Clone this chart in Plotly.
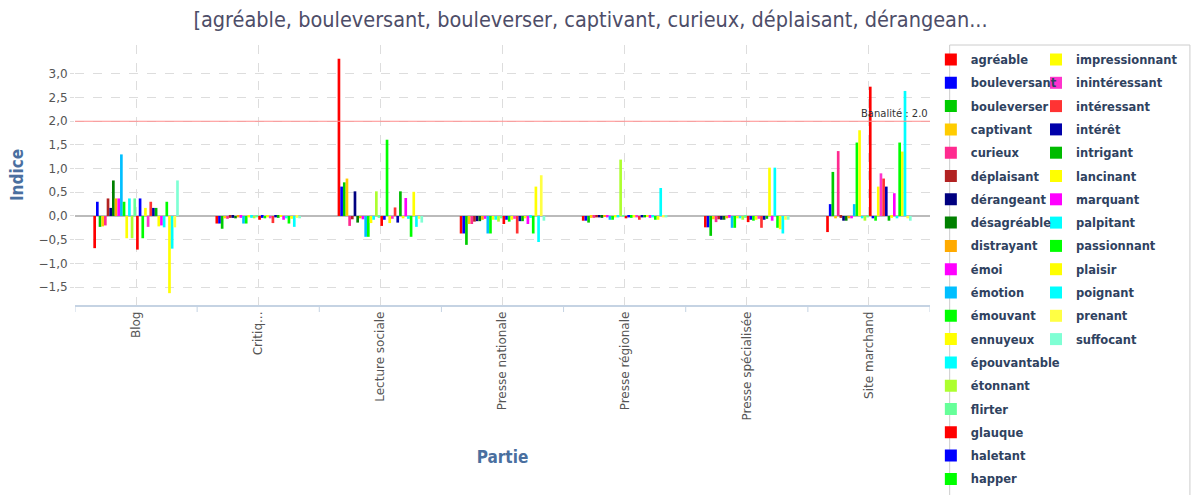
import plotly.graph_objects as go

categories = ["Blog", "Critiq...", "Lecture sociale", "Presse nationale",
              "Presse régionale", "Presse spécialisée", "Site marchand"]

termes = ["agréable", "bouleversant", "bouleverser", "captivant", "curieux",
          "déplaisant", "dérangeant", "désagréable", "distrayant", "émoi",
          "émotion", "émouvant", "ennuyeux", "épouvantable", "étonnant",
          "flirter", "glauque", "haletant", "happer", "impressionnant",
          "inintéressant", "intéressant", "intérêt", "intrigant", "lancinant",
          "marquant", "palpitant", "passionnant", "plaisir", "poignant",
          "prenant", "suffocant"]

# one value per terme, same order as termes
blog = [-0.68, 0.30, -0.23, -0.22, -0.20, 0.37, 0.17, 0.75, 0.37, 0.37,
        1.30, 0.30, -0.47, 0.37, -0.47, 0.37, -0.71, 0.37, -0.47, 0.17,
        -0.23, 0.30, 0.17, 0.17, -0.22, -0.20, -0.24, 0.30, -1.63, -0.69,
        -0.24, 0.75]
critiq = [-0.16, -0.16, -0.27, -0.05, -0.06, -0.04, -0.04, -0.05, -0.03, -0.04,
          -0.16, -0.16, -0.03, -0.04, -0.05, -0.03, -0.08, -0.04, -0.05, -0.03,
          -0.05, -0.15, -0.03, -0.04, -0.02, -0.08, -0.05, -0.16, -0.06, -0.23,
          -0.04, -0.05]
lecture_sociale = [3.32, 0.62, 0.71, 0.79, -0.21, -0.07, 0.52, -0.14, -0.05, -0.07,
                   -0.44, -0.44, -0.15, -0.08, 0.52, -0.04, -0.21, -0.08, 1.61, -0.15,
                   -0.06, 0.18, -0.14, 0.52, -0.05, 0.38, -0.06, -0.44, 0.51, -0.23,
                   -0.06, -0.14]
presse_nationale = [-0.37, -0.37, -0.61, -0.17, -0.17, -0.12, -0.11, -0.11, -0.08, -0.06,
                    -0.37, -0.37, -0.08, -0.08, -0.12, -0.05, -0.17, -0.08, -0.12, -0.08,
                    -0.06, -0.37, -0.11, -0.11, -0.05, -0.17, -0.04, -0.37, 0.62, -0.55,
                    0.86, -0.10]
presse_regionale = [-0.10, -0.10, -0.14, -0.04, -0.04, -0.03, -0.03, -0.04, -0.02, -0.03,
                    -0.08, -0.08, -0.03, -0.03, 1.19, -0.02, -0.05, -0.03, -0.04, -0.03,
                    -0.03, -0.08, -0.03, -0.03, -0.02, -0.04, -0.03, -0.08, -0.08, 0.59,
                    -0.03, -0.03]
presse_specialisee = [-0.24, -0.24, -0.42, -0.07, -0.13, -0.07, -0.08, -0.08, -0.05, -0.04,
                      -0.25, -0.25, -0.05, -0.05, -0.08, -0.04, -0.13, -0.08, -0.10, -0.08,
                      -0.06, -0.25, -0.08, -0.06, 1.02, -0.10, 1.02, -0.25, -0.28, -0.37,
                      -0.08, -0.08]
site_marchand = [-0.34, 0.25, 0.93, -0.05, 1.37, -0.04, -0.10, -0.10, -0.05, -0.05,
                 0.25, 1.55, 1.81, -0.05, -0.10, -0.03, 2.73, -0.05, -0.10, 0.62,
                 0.90, 0.79, 0.62, -0.10, -0.04, 0.48, -0.05, 1.55, 1.36, 2.64,
                 -0.05, -0.10]

banalite = 2.0

couleurs = ["#ff0000", "#0000ff", "#00cc00", "#ffcc00", "#ff2a8f",
            "#b22222", "#000080", "#008000", "#ffaa00", "#ff00ff",
            "#00bfff", "#00ff00", "#ffff00", "#00ffff", "#adff2f",
            "#66ff99", "#ff0000", "#0000ff", "#00ff00", "#ffff00",
            "#ff33cc", "#ff3333", "#0000aa", "#00bb00", "#ffff00",
            "#ff00ff", "#00ffff", "#00ff00", "#ffff00", "#00ffff",
            "#ffff44", "#7fffd4"]

par_categorie = [blog, critiq, lecture_sociale, presse_nationale,
                 presse_regionale, presse_specialisee, site_marchand]

NARROW = "DejaVu Sans Condensed, Liberation Sans Narrow, Arial Narrow, sans-serif"

fig = go.Figure()
for i, terme in enumerate(termes):
    # first column of the legend is drawn last so the second one can't cover its text
    fig.add_trace(go.Bar(
        x=categories, y=[vals[i] for vals in par_categorie],
        name=f"<b>{terme}</b>", hovertemplate=f"{terme}<br>%{{x}} : %{{y}}<extra></extra>",
        marker=dict(color=couleurs[i], line=dict(width=0)),
        legend="legend2" if i < 19 else "legend", legendgroup=terme,
    ))

fig.add_hline(y=banalite, line=dict(color="#ff8c8c", width=1),
              annotation_text="Banalité : 2.0", annotation_position="top right",
              annotation_font=dict(family="DejaVu Sans", size=10, color="#333333"))

# tick marks at the category boundaries
for k in range(len(categories) + 1):
    fig.add_shape(type="line", xref="x", yref="paper", x0=k - 0.5, x1=k - 0.5,
                  y0=0, y1=-0.027, line=dict(color="#c5d3e3", width=1))

# legend frame
fig.add_shape(type="rect", xref="paper", yref="paper", x0=1.023, x1=1.304,
              y0=-0.8, y1=1.0, line=dict(color="#cccccc", width=1), layer="below")

legend_common = dict(
    font=dict(family="DejaVu Sans", size=11.5, color="#2f4260"),
    yanchor="top", y=1.0, xanchor="left", tracegroupgap=4.3, maxheight=1000,
    bgcolor="rgba(0,0,0,0)", itemclick=False,
)

fig.update_layout(
    width=1193, height=495,
    margin=dict(l=75, r=263, t=45, b=190, autoexpand=False),
    paper_bgcolor="white", plot_bgcolor="white",
    separators=", ",
    title=dict(text="[agréable, bouleversant, bouleverser, captivant, curieux, déplaisant, dérangean...",
               x=0.495, xanchor="center", y=0.96, yanchor="middle",
               font=dict(family=NARROW, size=21.5, color="#4d4d68")),
    barmode="group", bargap=0.3, bargroupgap=0,
    showlegend=True,
    legend2=dict(x=1.001, **legend_common),
    legend=dict(x=1.124, **legend_common),
    xaxis=dict(
        title=dict(text="Partie", font=dict(family=NARROW, size=17, color="#4a6f9f", weight="bold"),
                   standoff=32),
        tickangle=-90, tickfont=dict(family="DejaVu Sans", size=12, color="#555555"),
        showgrid=True, gridcolor="#dddddd", griddash="dash", gridwidth=1,
        showline=True, linecolor="#c5d3e3", linewidth=1.5, ticks="",
        range=[-0.5, len(categories) - 0.5],
    ),
    yaxis=dict(
        title=dict(text="Indice", font=dict(family=NARROW, size=17, color="#4a6f9f", weight="bold"),
                   standoff=10),
        range=[-1.88, 3.61], tickvals=[-1.5, -1.0, -0.5, 0, 0.5, 1.0, 1.5, 2.0, 2.5, 3.0],
        tickformat=".1f", tickfont=dict(family="DejaVu Sans", size=12, color="#555555"),
        showgrid=True, gridcolor="#dddddd", griddash="dash", gridwidth=1,
        zeroline=True, zerolinecolor="#bbbbbb", zerolinewidth=1.5,
        showline=False, ticks="outside", ticklen=4, tickcolor="#dddddd",
    ),
)

# the page is photographed edge to edge, so drop the browser's default body margin
fig.write_html("out.html", config={"displayModeBar": False},
               post_script="document.body.style.margin = '0';")
